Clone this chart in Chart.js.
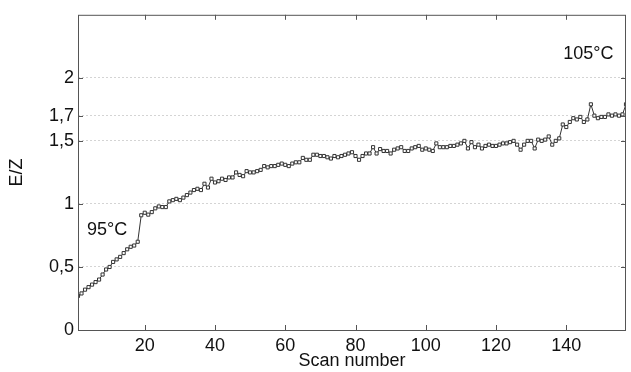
<!DOCTYPE html>
<html>
<head>
<meta charset="utf-8">
<script src="https://cdn.jsdelivr.net/npm/chart.js@4/dist/chart.umd.min.js"></script>
<style>
  html, body { margin: 0; padding: 0; background: #fff; }
  #wrap { width: 631px; height: 372px; }
</style>
</head>
<body>
<div id="wrap"><canvas id="ezChart"></canvas></div>
<script>
// E/Z ratio per scan
const ezValues = [
  0.27, 0.29, 0.32, 0.34, 0.36, 0.38, 0.40, 0.44, 0.48, 0.50,
  0.54, 0.56, 0.58, 0.61, 0.64, 0.66, 0.67, 0.70, 0.91, 0.93,
  0.915, 0.935, 0.965, 0.98, 0.975, 0.975, 1.02, 1.03, 1.04, 1.03,
  1.05, 1.07, 1.09, 1.11, 1.12, 1.11, 1.16, 1.13, 1.20, 1.17,
  1.18, 1.20, 1.19, 1.21, 1.21, 1.25, 1.23, 1.22, 1.26, 1.25,
  1.25, 1.26, 1.27, 1.30, 1.29, 1.30, 1.30, 1.31, 1.32, 1.31,
  1.30, 1.32, 1.33, 1.33, 1.365, 1.35, 1.35, 1.39, 1.39, 1.38,
  1.38, 1.37, 1.36, 1.38, 1.37, 1.38, 1.39, 1.40, 1.41, 1.38,
  1.35, 1.38, 1.40, 1.40, 1.45, 1.40, 1.435, 1.42, 1.42, 1.40,
  1.43, 1.44, 1.45, 1.42, 1.42, 1.44, 1.45, 1.46, 1.43, 1.44,
  1.43, 1.42, 1.48, 1.45, 1.45, 1.45, 1.46, 1.46, 1.47, 1.48,
  1.50, 1.44, 1.49, 1.45, 1.47, 1.44, 1.46, 1.47, 1.46, 1.46,
  1.47, 1.48, 1.48, 1.49, 1.50, 1.47, 1.43, 1.47, 1.50, 1.50,
  1.44, 1.51, 1.50, 1.51, 1.535, 1.47, 1.50, 1.52, 1.63, 1.61,
  1.65, 1.68, 1.67, 1.69, 1.65, 1.67, 1.79, 1.70, 1.68, 1.69,
  1.69, 1.71, 1.70, 1.71, 1.70, 1.71, 1.79
];
const scanNumbers = ezValues.map((v, i) => i + 1);

const xTicks = [20, 40, 60, 80, 100, 120, 140];
const yTicks = [0, 0.5, 1, 1.5, 1.7, 2];

// temperature notes: [text, scan, E/Z]
const tempLabels = [
  ['95°C', 9.3, 0.79],
  ['105°C', 146.3, 2.19]
];

const FONT = 'Liberation Sans, Arial, sans-serif';

// box frame, inward tick marks and temperature text
const framePlugin = {
  id: 'frame',
  afterDraw(chart) {
    const { ctx, chartArea: a, scales: { x, y } } = chart;
    ctx.save();
    ctx.strokeStyle = '#555';
    ctx.lineWidth = 1;
    ctx.strokeRect(a.left + 0.5, a.top + 0.5, a.right - a.left - 1, a.bottom - a.top);
    ctx.beginPath();
    xTicks.forEach(v => {
      const px = Math.round(x.getPixelForValue(v)) + 0.5;
      ctx.moveTo(px, a.bottom); ctx.lineTo(px, a.bottom - 5);
      ctx.moveTo(px, a.top); ctx.lineTo(px, a.top + 5);
    });
    yTicks.forEach(v => {
      const py = Math.round(y.getPixelForValue(v)) + 0.5;
      ctx.moveTo(a.left, py); ctx.lineTo(a.left + 5, py);
      ctx.moveTo(a.right, py); ctx.lineTo(a.right - 5, py);
    });
    ctx.stroke();

    ctx.fillStyle = '#111';
    ctx.font = '18px ' + FONT;
    ctx.textAlign = 'center';
    ctx.textBaseline = 'middle';
    tempLabels.forEach(([txt, sx, sy]) => {
      ctx.fillText(txt, x.getPixelForValue(sx), y.getPixelForValue(sy));
    });
    ctx.restore();
  }
};

new Chart(document.getElementById('ezChart'), {
  type: 'line',
  data: {
    labels: scanNumbers,
    datasets: [{
      data: ezValues.map((v, i) => ({ x: scanNumbers[i], y: v })),
      borderColor: '#333',
      borderWidth: 1,
      pointStyle: 'rect',
      pointRadius: 2.2,
      pointBorderWidth: 1,
      pointBorderColor: '#333',
      pointBackgroundColor: '#fff',
      tension: 0,
      fill: false
    }]
  },
  options: {
    responsive: true,
    maintainAspectRatio: false,
    animation: false,
    layout: { padding: { left: 0, top: 14, right: 1, bottom: 0 } },
    plugins: { legend: { display: false }, tooltip: { enabled: false } },
    scales: {
      x: {
        type: 'linear',
        min: 1,
        max: 157,
        afterBuildTicks: s => { s.ticks = xTicks.map(v => ({ value: v })); },
        afterFit: s => { s.height = 42; },
        grid: { display: false, drawTicks: false },
        border: { display: false },
        ticks: { color: '#111', font: { family: FONT, size: 18 }, padding: 5, maxRotation: 0 },
        title: {
          display: true,
          text: 'Scan number',
          color: '#111',
          font: { family: FONT, size: 18 },
          padding: { top: 0, bottom: 0 }
        }
      },
      y: {
        min: 0,
        max: 2.5,
        afterBuildTicks: s => { s.ticks = yTicks.map(v => ({ value: v })); },
        afterFit: s => { s.width = 78; },
        grid: {
          drawTicks: false,
          color: ctx => ctx.tick && ctx.tick.value === 0 ? 'rgba(0,0,0,0)' : '#d4d4d4',
          lineWidth: 1
        },
        border: { display: false, dash: [2, 2] },
        ticks: {
          color: '#111',
          font: { family: FONT, size: 18 },
          padding: 4,
          callback: v => String(v).replace('.', ',')
        },
        title: {
          display: true,
          text: 'E/Z',
          color: '#111',
          font: { family: FONT, size: 18 },
          padding: { top: 6, bottom: 0 }
        }
      }
    }
  },
  plugins: [framePlugin]
});
</script>
</body>
</html>
